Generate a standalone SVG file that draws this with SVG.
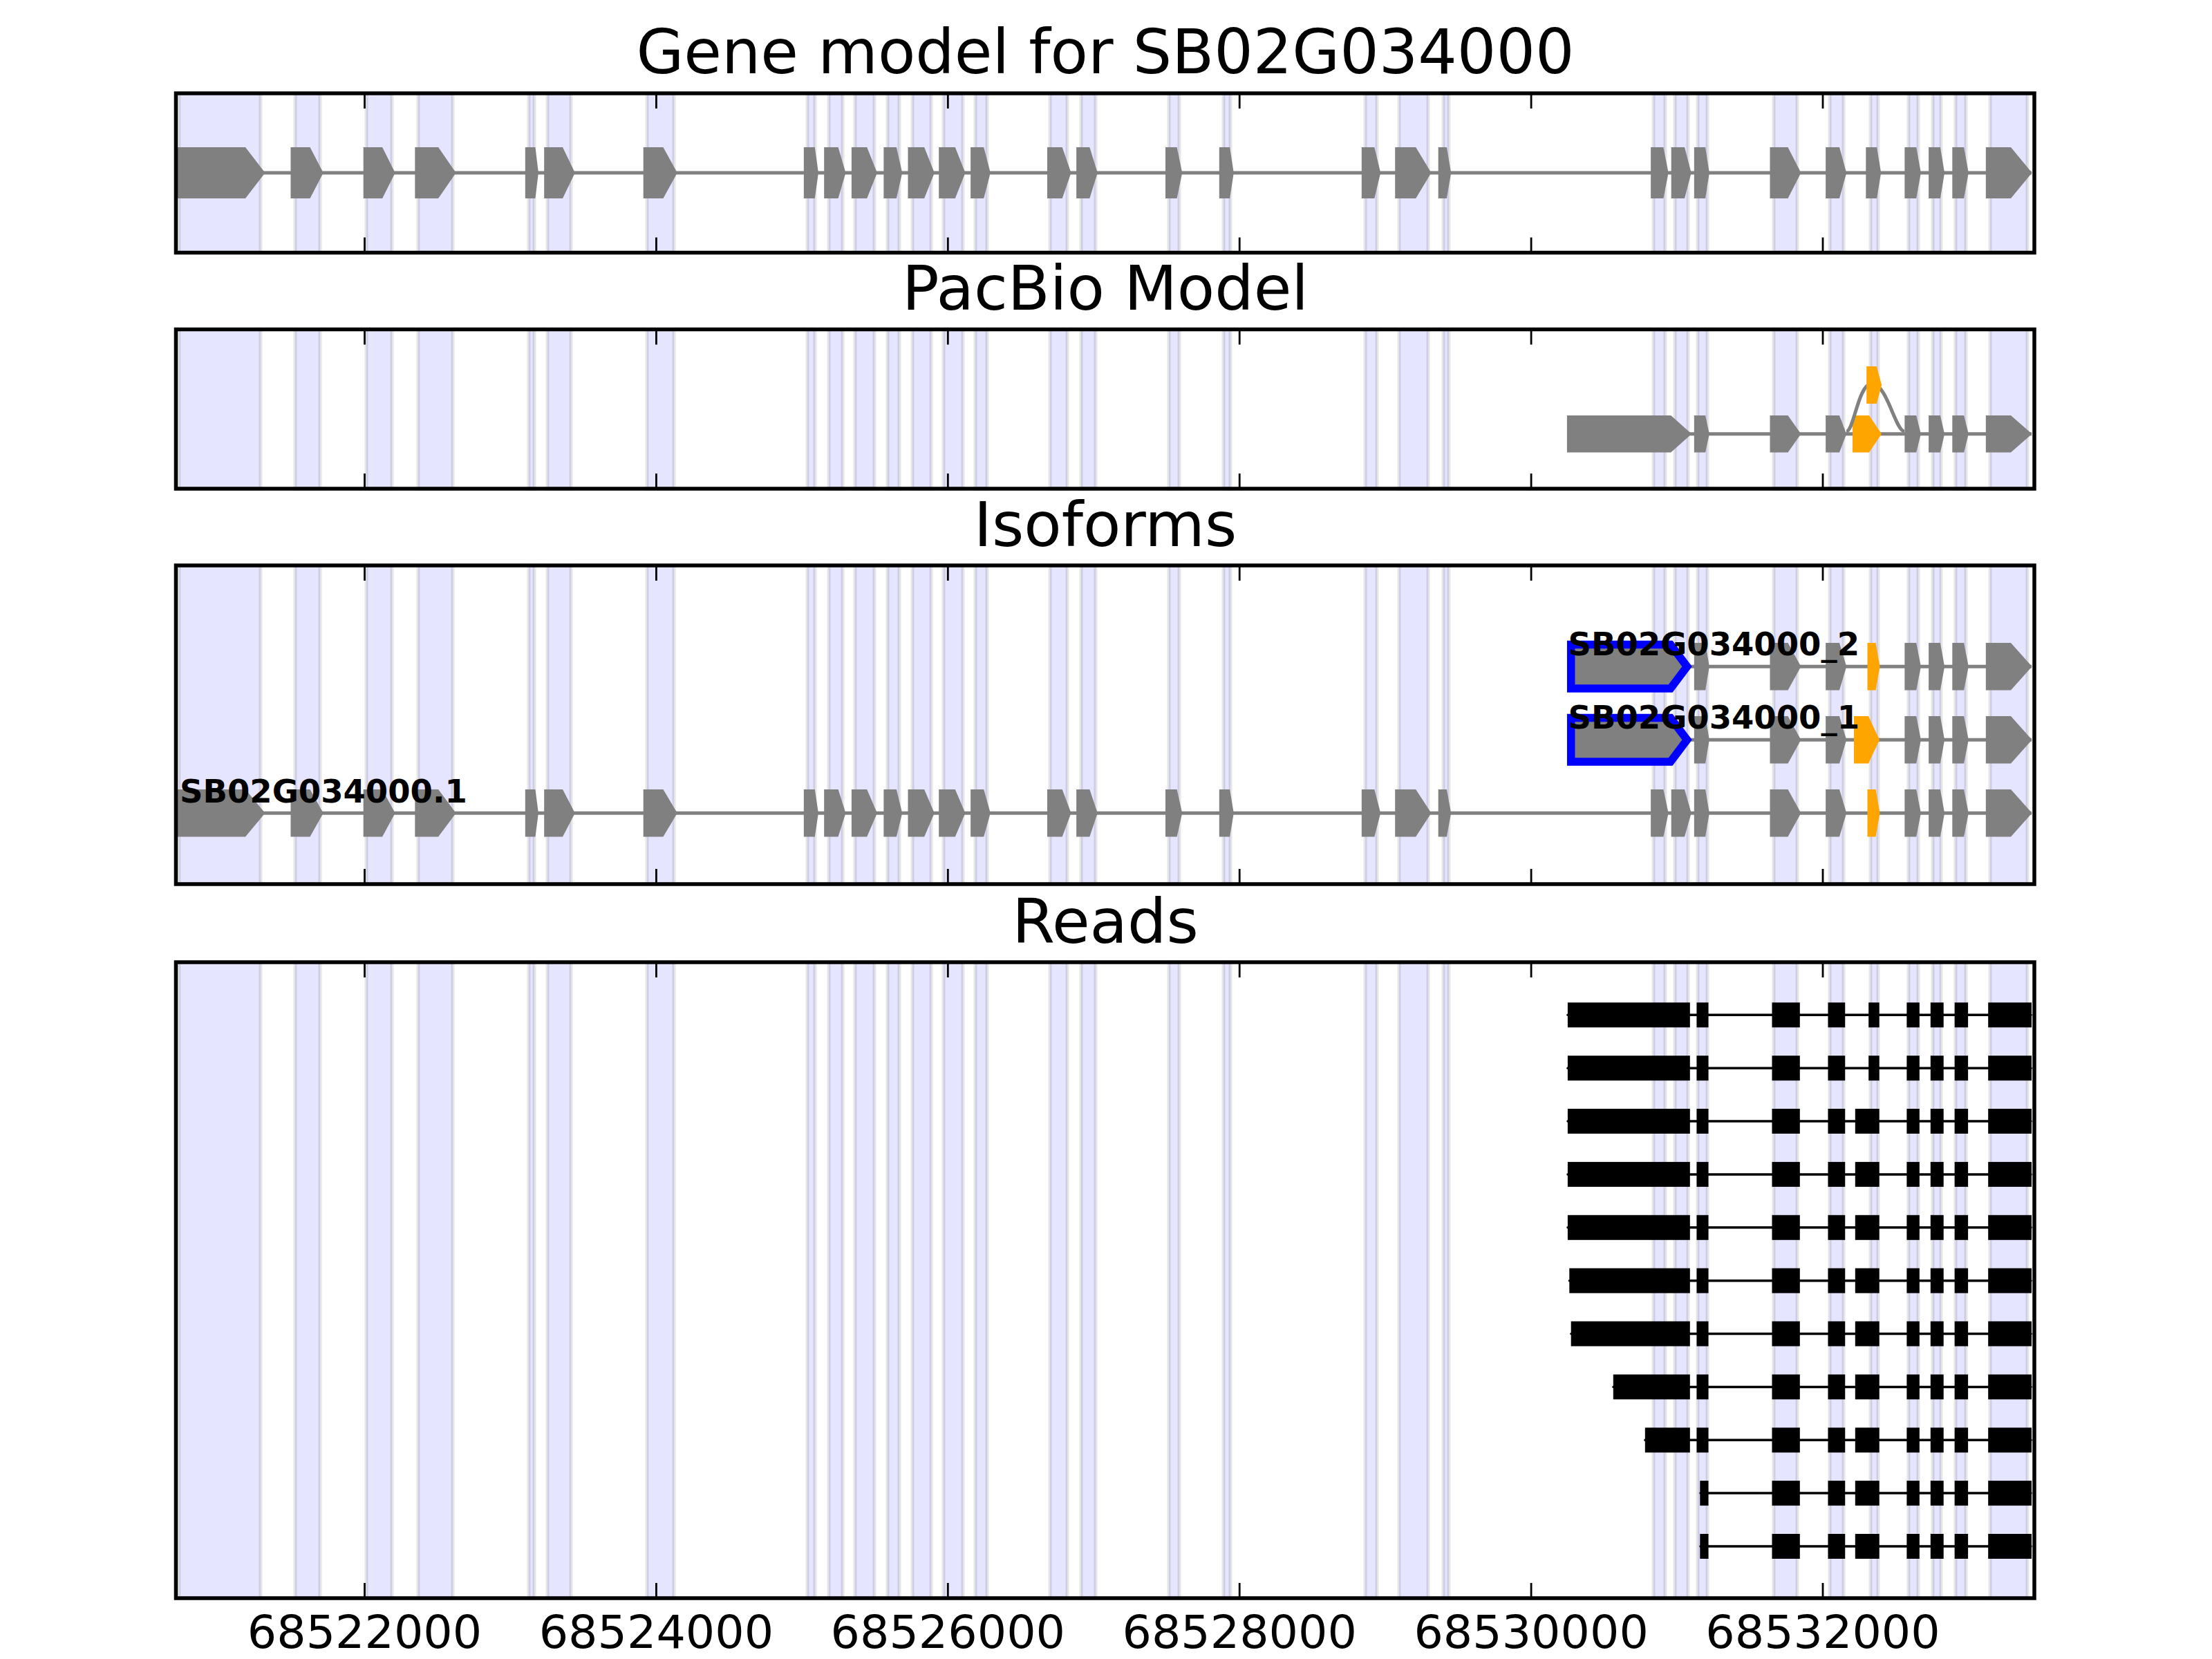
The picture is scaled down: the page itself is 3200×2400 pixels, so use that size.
<svg xmlns="http://www.w3.org/2000/svg" xmlns:xlink="http://www.w3.org/1999/xlink" width="3200" height="2400" viewBox="0 0 3200 2400">
<style>
text{font-family:"DejaVu Sans","Liberation Sans",sans-serif;fill:#000}
.band{fill:#0000ff;fill-opacity:0.1;stroke:#000;stroke-opacity:0.1;stroke-width:5;vector-effect:non-scaling-stroke}
.ex{fill:#808080}
.or{fill:#ffa500}
.intr{stroke:#808080;stroke-width:5;fill:none}
.rd{fill:#000}
.rl{stroke:#000;stroke-width:3.5;stroke-linecap:round}
.spine{fill:none;stroke:#000;stroke-width:5.5}
.tk{stroke:#000;stroke-width:2.8}
.ttl{font-size:88.9px;text-anchor:middle}
.tl{font-size:66.7px;text-anchor:middle}
.lab{font-size:46.5px;font-weight:bold}
.blue{fill:#808080;stroke:#0000ff;stroke-width:11.5;stroke-linejoin:miter}
</style>
<defs>
<g id="bands">
<rect class="band" x="259" y="0" width="118" height="1"/>
<rect class="band" x="427" y="0" width="36" height="1"/>
<rect class="band" x="530" y="0" width="37" height="1"/>
<rect class="band" x="605" y="0" width="50" height="1"/>
<rect class="band" x="765" y="0" width="8" height="1"/>
<rect class="band" x="792" y="0" width="34" height="1"/>
<rect class="band" x="936" y="0" width="39" height="1"/>
<rect class="band" x="1168" y="0" width="11" height="1"/>
<rect class="band" x="1199" y="0" width="20" height="1"/>
<rect class="band" x="1237" y="0" width="28" height="1"/>
<rect class="band" x="1284" y="0" width="17" height="1"/>
<rect class="band" x="1320" y="0" width="27" height="1"/>
<rect class="band" x="1365" y="0" width="28" height="1"/>
<rect class="band" x="1411" y="0" width="17" height="1"/>
<rect class="band" x="1519" y="0" width="25" height="1"/>
<rect class="band" x="1564" y="0" width="21" height="1"/>
<rect class="band" x="1691" y="0" width="15" height="1"/>
<rect class="band" x="1770" y="0" width="10" height="1"/>
<rect class="band" x="1975" y="0" width="17" height="1"/>
<rect class="band" x="2024" y="0" width="42" height="1"/>
<rect class="band" x="2088" y="0" width="8" height="1"/>
<rect class="band" x="2392" y="0" width="17" height="1"/>
<rect class="band" x="2423" y="0" width="19" height="1"/>
<rect class="band" x="2456" y="0" width="14" height="1"/>
<rect class="band" x="2566" y="0" width="34" height="1"/>
<rect class="band" x="2647" y="0" width="20" height="1"/>
<rect class="band" x="2706" y="0" width="11" height="1"/>
<rect class="band" x="2761" y="0" width="14" height="1"/>
<rect class="band" x="2796" y="0" width="12" height="1"/>
<rect class="band" x="2829" y="0" width="15" height="1"/>
<rect class="band" x="2879" y="0" width="54" height="1"/>
</g>
<g id="ticks">
<line class="tk" x1="527.5" y1="0" x2="527.5" y2="22"/>
<line class="tk" x1="949.4" y1="0" x2="949.4" y2="22"/>
<line class="tk" x1="1371.3" y1="0" x2="1371.3" y2="22"/>
<line class="tk" x1="1793.2" y1="0" x2="1793.2" y2="22"/>
<line class="tk" x1="2215.1" y1="0" x2="2215.1" y2="22"/>
<line class="tk" x1="2637" y1="0" x2="2637" y2="22"/>
</g>
<g id="gmHead" class="ex">
<polygon points="257,-1 355,-1 383.5,0 355,1 257,1"/>
<polygon points="420.5,-1 448.5,-1 467.7,0 448.5,1 420.5,1"/>
<polygon points="525.7,-1 553.1,-1 571.6,0 553.1,1 525.7,1"/>
<polygon points="600.3,-1 634.1,-1 659.6,0 634.1,1 600.3,1"/>
<polygon points="759.8,-1 774.4,-1 778.9,0 774.4,1 759.8,1"/>
<polygon points="787.2,-1 814,-1 831.8,0 814,1 787.2,1"/>
<polygon points="930.7,-1 959.4,-1 979.8,0 959.4,1 930.7,1"/>
<polygon points="1162.8,-1 1178.8,-1 1183.9,0 1178.8,1 1162.8,1"/>
<polygon points="1192.2,-1 1212.6,-1 1223.4,0 1212.6,1 1192.2,1"/>
<polygon points="1231.9,-1 1254.2,-1 1268.9,0 1254.2,1 1231.9,1"/>
<polygon points="1278.4,-1 1296.9,-1 1305.2,0 1296.9,1 1278.4,1"/>
<polygon points="1313.5,-1 1337.1,-1 1351.8,0 1337.1,1 1313.5,1"/>
<polygon points="1358.2,-1 1381.8,-1 1396.4,0 1381.8,1 1358.2,1"/>
<polygon points="1404.1,-1 1423.2,-1 1432.8,0 1423.2,1 1404.1,1"/>
<polygon points="1515,-1 1536.7,-1 1549.5,0 1536.7,1 1515,1"/>
<polygon points="1557.1,-1 1576.3,-1 1587.8,0 1576.3,1 1557.1,1"/>
<polygon points="1686,-1 1702.6,-1 1710.2,0 1702.6,1 1686,1"/>
<polygon points="1763.8,-1 1779.1,-1 1784.8,0 1779.1,1 1763.8,1"/>
<polygon points="1969.8,-1 1988.3,-1 1997.2,0 1988.3,1 1969.8,1"/>
<polygon points="2018.2,-1 2048.2,-1 2070.5,0 2048.2,1 2018.2,1"/>
<polygon points="2080.7,-1 2092.9,-1 2099.2,0 2092.9,1 2080.7,1"/>
<polygon points="2388.1,-1 2406.4,-1 2413.6,0 2406.4,1 2388.1,1"/>
<polygon points="2417.7,-1 2437,-1 2446.7,0 2437,1 2417.7,1"/>
</g>
<g id="tail" class="ex">
<polygon points="2450.8,-1 2467.1,-1 2472.8,0 2467.1,1 2450.8,1"/>
<polygon points="2560.5,-1 2586.5,-1 2605.4,0 2586.5,1 2560.5,1"/>
<polygon points="2641.1,-1 2661,-1 2671.2,0 2661,1 2641.1,1"/>
<polygon points="2755.4,-1 2772.2,-1 2778.9,0 2772.2,1 2755.4,1"/>
<polygon points="2790.1,-1 2806.9,-1 2813.1,0 2806.9,1 2790.1,1"/>
<polygon points="2824.3,-1 2841.1,-1 2847.8,0 2841.1,1 2824.3,1"/>
<polygon points="2872.8,-1 2909,-1 2939.6,0 2909,1 2872.8,1"/>
</g>
<polygon id="e27" points="2699.3,-1 2715.1,-1 2721.2,0 2715.1,1 2699.3,1"/>
<polygon id="e27o" points="2701.5,-1 2713.5,-1 2719.5,0 2713.5,1 2701.5,1"/>
<polygon id="pb1" points="2266.9,-1 2417.2,-1 2447.2,0 2417.2,1 2266.9,1"/>
<g id="rtail" class="rd">
<rect x="2563.5" y="-18" width="40.3" height="36"/>
<rect x="2644.5" y="-18" width="24.7" height="36"/>
<rect x="2758.4" y="-18" width="18.4" height="36"/>
<rect x="2792.8" y="-18" width="18.9" height="36"/>
<rect x="2827.7" y="-18" width="19.4" height="36"/>
<rect x="2876.2" y="-18" width="62.8" height="36"/>
</g>
</defs>

<g id="panel-gene-model">
<use xlink:href="#bands" transform="translate(0,135) scale(1,230.5)"/>
<line class="intr" x1="257" y1="250" x2="2939" y2="250"/>
<use xlink:href="#gmHead" transform="translate(0,250) scale(1,37)"/>
<use xlink:href="#tail" transform="translate(0,250) scale(1,37)"/>
<use xlink:href="#e27" class="ex" transform="translate(0,250) scale(1,37)"/>
<rect class="spine" x="254.5" y="135" width="2688.5" height="230.5"/>
<use xlink:href="#ticks" transform="translate(0,135)"/>
<use xlink:href="#ticks" transform="translate(0,365.5) scale(1,-1)"/>
<text class="ttl" x="1599" y="106">Gene model for SB02G034000</text>
</g>

<g id="panel-pacbio">
<use xlink:href="#bands" transform="translate(0,476.5) scale(1,230.5)"/>
<line class="intr" x1="2420" y1="627.7" x2="2939" y2="627.7"/>
<use xlink:href="#pb1" class="ex" transform="translate(0,627.7) scale(1,26.7)"/>
<use xlink:href="#tail" transform="translate(0,627.7) scale(1,26.7)"/>
<polygon class="or" points="2680,601 2704,601 2722,627.7 2704,654.4 2680,654.4"/>
<path class="intr" d="M2671,624 C2682,624 2688,555 2708,555 C2730,555 2742,624 2755,624"/>
<polygon class="or" points="2700.2,530 2714.8,530 2722.1,557 2714.8,584 2700.2,584"/>
<rect class="spine" x="254.5" y="476.5" width="2688.5" height="230.5"/>
<use xlink:href="#ticks" transform="translate(0,476.5)"/>
<use xlink:href="#ticks" transform="translate(0,707) scale(1,-1)"/>
<text class="ttl" x="1599" y="448">PacBio Model</text>
</g>

<g id="panel-isoforms">
<use xlink:href="#bands" transform="translate(0,818) scale(1,461)"/>
<g id="iso-2">
<line class="intr" x1="2440" y1="964.3" x2="2939" y2="964.3"/>
<use xlink:href="#tail" transform="translate(0,964.3) scale(1,34.3)"/>
<use xlink:href="#e27o" class="or" transform="translate(0,964.3) scale(1,34.3)"/>
<polygon class="blue" points="2272.7,932.6 2416.7,932.6 2440.6,964.3 2416.7,996 2272.7,996"/>
</g>
<g id="iso-1">
<line class="intr" x1="2440" y1="1070.3" x2="2939" y2="1070.3"/>
<use xlink:href="#tail" transform="translate(0,1070.3) scale(1,34.3)"/>
<polygon class="or" points="2682,1036 2703,1036 2719,1070.3 2703,1104.6 2682,1104.6"/>
<polygon class="blue" points="2272.7,1038.6 2416.7,1038.6 2440.6,1070.3 2416.7,1102 2272.7,1102"/>
</g>
<g id="iso-ref">
<line class="intr" x1="257" y1="1176.3" x2="2939" y2="1176.3"/>
<use xlink:href="#gmHead" transform="translate(0,1176.3) scale(1,34.3)"/>
<use xlink:href="#tail" transform="translate(0,1176.3) scale(1,34.3)"/>
<use xlink:href="#e27o" class="or" transform="translate(0,1176.3) scale(1,34.3)"/>
</g>
<text class="lab" x="2268.5" y="948.3">SB02G034000_2</text>
<text class="lab" x="2268.5" y="1054">SB02G034000_1</text>
<text class="lab" x="260" y="1160.7">SB02G034000.1</text>
<rect class="spine" x="254.5" y="818" width="2688.5" height="461"/>
<use xlink:href="#ticks" transform="translate(0,818)"/>
<use xlink:href="#ticks" transform="translate(0,1279) scale(1,-1)"/>
<text class="ttl" x="1599" y="790">Isoforms</text>
</g>

<g id="panel-reads">
<use xlink:href="#bands" transform="translate(0,1392) scale(1,920)"/>
<g id="read-1" transform="translate(0,1468.3)">
<line class="rl" x1="2268" y1="0" x2="2938" y2="0"/>
<use xlink:href="#rtail"/>
<rect class="rd" x="2267.9" y="-18" width="176.9" height="36"/>
<rect class="rd" x="2454.5" y="-18" width="17" height="36"/>
<rect class="rd" x="2703.2" y="-18" width="15.5" height="36"/>
</g>
<g id="read-2" transform="translate(0,1545.2)">
<line class="rl" x1="2268" y1="0" x2="2938" y2="0"/>
<use xlink:href="#rtail"/>
<rect class="rd" x="2267.9" y="-18" width="176.9" height="36"/>
<rect class="rd" x="2454.5" y="-18" width="17" height="36"/>
<rect class="rd" x="2703.2" y="-18" width="15.5" height="36"/>
</g>
<g id="read-3" transform="translate(0,1622)">
<line class="rl" x1="2268" y1="0" x2="2938" y2="0"/>
<use xlink:href="#rtail"/>
<rect class="rd" x="2267.9" y="-18" width="176.9" height="36"/>
<rect class="rd" x="2454.5" y="-18" width="17" height="36"/>
<rect class="rd" x="2683.8" y="-18" width="34.9" height="36"/>
</g>
<g id="read-4" transform="translate(0,1698.9)">
<line class="rl" x1="2268" y1="0" x2="2938" y2="0"/>
<use xlink:href="#rtail"/>
<rect class="rd" x="2267.9" y="-18" width="176.9" height="36"/>
<rect class="rd" x="2454.5" y="-18" width="17" height="36"/>
<rect class="rd" x="2683.8" y="-18" width="34.9" height="36"/>
</g>
<g id="read-5" transform="translate(0,1775.8)">
<line class="rl" x1="2268" y1="0" x2="2938" y2="0"/>
<use xlink:href="#rtail"/>
<rect class="rd" x="2267.9" y="-18" width="176.9" height="36"/>
<rect class="rd" x="2454.5" y="-18" width="17" height="36"/>
<rect class="rd" x="2683.8" y="-18" width="34.9" height="36"/>
</g>
<g id="read-6" transform="translate(0,1852.7)">
<line class="rl" x1="2270.5" y1="0" x2="2938" y2="0"/>
<use xlink:href="#rtail"/>
<rect class="rd" x="2270.3" y="-18" width="174.5" height="36"/>
<rect class="rd" x="2454.5" y="-18" width="17" height="36"/>
<rect class="rd" x="2683.8" y="-18" width="34.9" height="36"/>
</g>
<g id="read-7" transform="translate(0,1929.5)">
<line class="rl" x1="2273" y1="0" x2="2938" y2="0"/>
<use xlink:href="#rtail"/>
<rect class="rd" x="2272.7" y="-18" width="172.1" height="36"/>
<rect class="rd" x="2454.5" y="-18" width="17" height="36"/>
<rect class="rd" x="2683.8" y="-18" width="34.9" height="36"/>
</g>
<g id="read-8" transform="translate(0,2006.4)">
<line class="rl" x1="2334" y1="0" x2="2938" y2="0"/>
<use xlink:href="#rtail"/>
<rect class="rd" x="2333.8" y="-18" width="111" height="36"/>
<rect class="rd" x="2454.5" y="-18" width="17" height="36"/>
<rect class="rd" x="2683.8" y="-18" width="34.9" height="36"/>
</g>
<g id="read-9" transform="translate(0,2083.3)">
<line class="rl" x1="2380" y1="0" x2="2938" y2="0"/>
<use xlink:href="#rtail"/>
<rect class="rd" x="2379.8" y="-18" width="65" height="36"/>
<rect class="rd" x="2454.5" y="-18" width="17" height="36"/>
<rect class="rd" x="2683.8" y="-18" width="34.9" height="36"/>
</g>
<g id="read-10" transform="translate(0,2160.1)">
<line class="rl" x1="2460" y1="0" x2="2938" y2="0"/>
<use xlink:href="#rtail"/>
<rect class="rd" x="2459.3" y="-18" width="12.2" height="36"/>
<rect class="rd" x="2683.8" y="-18" width="34.9" height="36"/>
</g>
<g id="read-11" transform="translate(0,2237)">
<line class="rl" x1="2460" y1="0" x2="2938" y2="0"/>
<use xlink:href="#rtail"/>
<rect class="rd" x="2459.3" y="-18" width="12.2" height="36"/>
<rect class="rd" x="2683.8" y="-18" width="34.9" height="36"/>
</g>
<rect class="spine" x="254.5" y="1392" width="2688.5" height="920"/>
<use xlink:href="#ticks" transform="translate(0,1392)"/>
<use xlink:href="#ticks" transform="translate(0,2312) scale(1,-1)"/>
<text class="ttl" x="1599" y="1364">Reads</text>
</g>

<g id="x-axis-labels">
<text class="tl" x="527.5" y="2384">68522000</text>
<text class="tl" x="949.4" y="2384">68524000</text>
<text class="tl" x="1371.3" y="2384">68526000</text>
<text class="tl" x="1793.2" y="2384">68528000</text>
<text class="tl" x="2215.1" y="2384">68530000</text>
<text class="tl" x="2637" y="2384">68532000</text>
</g>
</svg>
